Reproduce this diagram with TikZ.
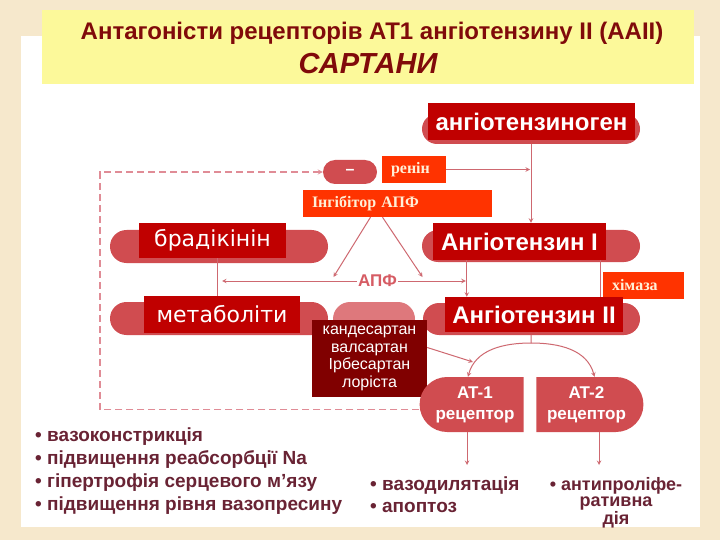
\documentclass[tikz,border=0pt]{standalone}
\usepackage{fontspec}
\setmainfont{Liberation Sans}
\newfontfamily\tnr{Liberation Serif}
\newfontfamily\dvs{DejaVu Sans}
\usetikzlibrary{shapes.misc,positioning}
\definecolor{pagebg}{RGB}{246,232,204}
\definecolor{titlebg}{RGB}{252,249,154}
\definecolor{titlered}{RGB}{128,10,10}
\definecolor{pillred}{RGB}{208,76,80}
\definecolor{midpink}{RGB}{222,120,124}
\definecolor{boxred}{RGB}{192,0,0}
\definecolor{boxorange}{RGB}{255,51,0}
\definecolor{creamtext}{RGB}{255,240,215}
\definecolor{drugred}{RGB}{128,0,0}
\definecolor{linered}{RGB}{206,104,112}
\definecolor{dashred}{RGB}{224,140,150}
\definecolor{listplum}{RGB}{105,35,52}
\definecolor{apfred}{RGB}{214,92,100}

\begin{document}
\begin{tikzpicture}[x=1pt,y=-1pt,>=stealth]
% renin-angiotensin scheme with sartans
\tikzstyle{pill} = [rounded rectangle, fill=pillred, inner sep=0pt]
\tikzstyle{redbox} = [rectangle, fill=boxred, text=white, inner sep=0pt, font=\bfseries\fontsize{24}{28}\selectfont]
\tikzstyle{dvsbox} = [redbox, font=\dvs\fontsize{22}{26}\selectfont]
\tikzstyle{orangebox} = [rectangle, fill=boxorange, text=creamtext, inner ysep=0pt, inner xsep=9pt, minimum height=27pt, align=left, font=\tnr\bfseries\fontsize{16}{18}\selectfont]
\tikzstyle{conn} = [draw=linered, line width=1pt]
\tikzstyle{dashline} = [draw=dashred, line width=1.2pt, dash pattern=on 7pt off 4pt]
\tikzstyle{bullets} = [inner sep=0pt, text=listplum, font=\bfseries\fontsize{19}{23}\selectfont]

\useasboundingbox (0,0) rectangle (720,540);
\fill[pagebg] (0,0) rectangle (720,540);
\fill[white] (21,36) rectangle (700,527);
\fill[titlebg] (42,10) rectangle (694,84);
\node (title)[text=titlered, font=\bfseries\fontsize{24}{28}\selectfont] at (372,33) {Антагоністи рецепторів АТ1 ангіотензину ІІ (ААІІ)};
\node (sartany)[text=titlered, font=\bfseries\itshape\fontsize{29}{32}\selectfont] at (368,64) {САРТАНИ};

\node (agenpill)[pill, minimum width=218pt, minimum height=30pt] at (531,129) {};
\node (agenbox)[redbox, minimum width=207pt, minimum height=37pt] at (531.5,121.5) {ангіотензиноген};
\node (minus)[pill, minimum width=54pt, minimum height=24pt, text=white, font=\bfseries\fontsize{16}{18}\selectfont] at (350,172) {\raisebox{-3pt}{–}};
\node (renin)[orangebox, text width=46pt] at (414,169.5) {ренін};
\node (inhib)[orangebox, text width=171pt] at (397.5,203.5) {Інгібітор АПФ};

\node (bradpill)[pill, minimum width=218pt, minimum height=33pt] at (219,246.5) {};
\node (bradbox)[dvsbox, minimum width=147pt, minimum height=35pt] at (212.5,240.5) {брадікінін};
\node (ang1pill)[pill, minimum width=218pt, minimum height=32pt] at (531,246) {};
\node (ang1box)[redbox, minimum width=173pt, minimum height=37pt] at (519.5,241.5) {Ангіотензин І};
\node (apf)[text=apfred, inner sep=1pt, font=\bfseries\fontsize{17}{20}\selectfont] at (377.5,281) {АПФ};
\node (chymase)[orangebox, text width=63pt] at (643.5,285.5) {хімаза};

\node (metpill)[pill, minimum width=218pt, minimum height=33pt] at (219,318.5) {};
\node (midpill)[pill, fill=midpink, minimum width=82pt, minimum height=34pt] at (374,319) {};
\node (metbox)[dvsbox, minimum width=156pt, minimum height=37pt] at (222,314.5) {метаболіти};
\node (ang2pill)[pill, minimum width=217pt, minimum height=32pt] at (531.5,319) {};
\node (ang2box)[redbox, minimum width=178pt, minimum height=35pt] at (534,314.5) {Ангіотензин ІІ};
\node (sartans)[rectangle, fill=drugred, text=white, minimum width=115pt, minimum height=77pt, align=center, font=\fontsize{16}{17.7}\selectfont] at (369.5,358.5) {кандесартан\\валсартан\\Ірбесартан\\лоріста};

\node (at1)[pill, rounded rectangle right arc=none, minimum width=104pt, minimum height=55pt, text=white, align=center, font=\bfseries\fontsize{17}{21}\selectfont] at (475,404.5) {AT-1\\рецептор};
\node (at2)[pill, rounded rectangle left arc=none, minimum width=107pt, minimum height=55pt, text=white, align=center, font=\bfseries\fontsize{17}{21}\selectfont] at (586.5,404.5) {AT-2\\рецептор};

\node (at1effects)[bullets, anchor=north west, align=left] at (35,428) {• вазоконстрикція\\• підвищення реабсорбції Na\\• гіпертрофія серцевого м’язу\\• підвищення рівня вазопресину};
\node (dilation)[bullets, anchor=north west, align=left, font=\bfseries\fontsize{19}{21.5}\selectfont] at (370,477) {• вазодилятація\\• апоптоз};
\node (antiprolif)[bullets, anchor=north, align=center, font=\bfseries\fontsize{18}{16.5}\selectfont] at (616,477) {• антипроліфе-\\ративна\\дія};

\coordinate (loopleft) at (100,0);
\coordinate (fork) at (531,343);
\coordinate (blockpt) at (473,362);
\coordinate (bradout) at ([xshift=4.5pt]bradbox.south);
\coordinate (ang1out) at ([xshift=34pt]ang1box.south west);

\draw[conn,->] (agenpill) -- (agenpill |- ang1box.north);
\draw[conn,->, shorten >=1pt] (renin) -- (renin -| agenpill);
\draw[dashline,->] ([yshift=-5pt]at1.west) -- ([yshift=-5pt]at1.west -| loopleft) |- (minus);
\draw[conn,->] ([xshift=-27pt]inhib.south) -- ([xshift=-44pt,yshift=4pt]apf.center);
\draw[conn,->] ([xshift=-15pt]inhib.south) -- ([xshift=45pt,yshift=4pt]apf.center);
\draw[conn,->, shorten >=5pt] (apf) -- (apf -| bradout);
\draw[conn,->, shorten >=1pt] (apf) -- (apf -| ang1out);
\draw[conn] (bradout) -- (bradout |- metbox.north);
\draw[conn,->] (ang1out) -- (ang1out |- ang2box.north);
\draw[conn] ([xshift=-6pt]ang1box.south east) -- ([xshift=-6pt]ang1box.south east |- ang2box.north);
\draw[conn] (ang2pill) -- (fork);
\draw[conn,->] (fork) to[out=180,in=75] ([xshift=-7pt]at1.north);
\draw[conn,->] (fork) to[out=0,in=105] ([xshift=8pt]at2.north);
\draw[conn,->] ([yshift=11pt]sartans.east) -- (blockpt);
\draw[conn,->, shorten >=12pt] ([xshift=-8pt]at1.south) -- ([xshift=-8pt]at1.south |- dilation.north);
\draw[conn,->, shorten >=12pt] ([xshift=12.5pt]at2.south) -- ([xshift=12.5pt]at2.south |- antiprolif.north);
\end{tikzpicture}
\end{document}
